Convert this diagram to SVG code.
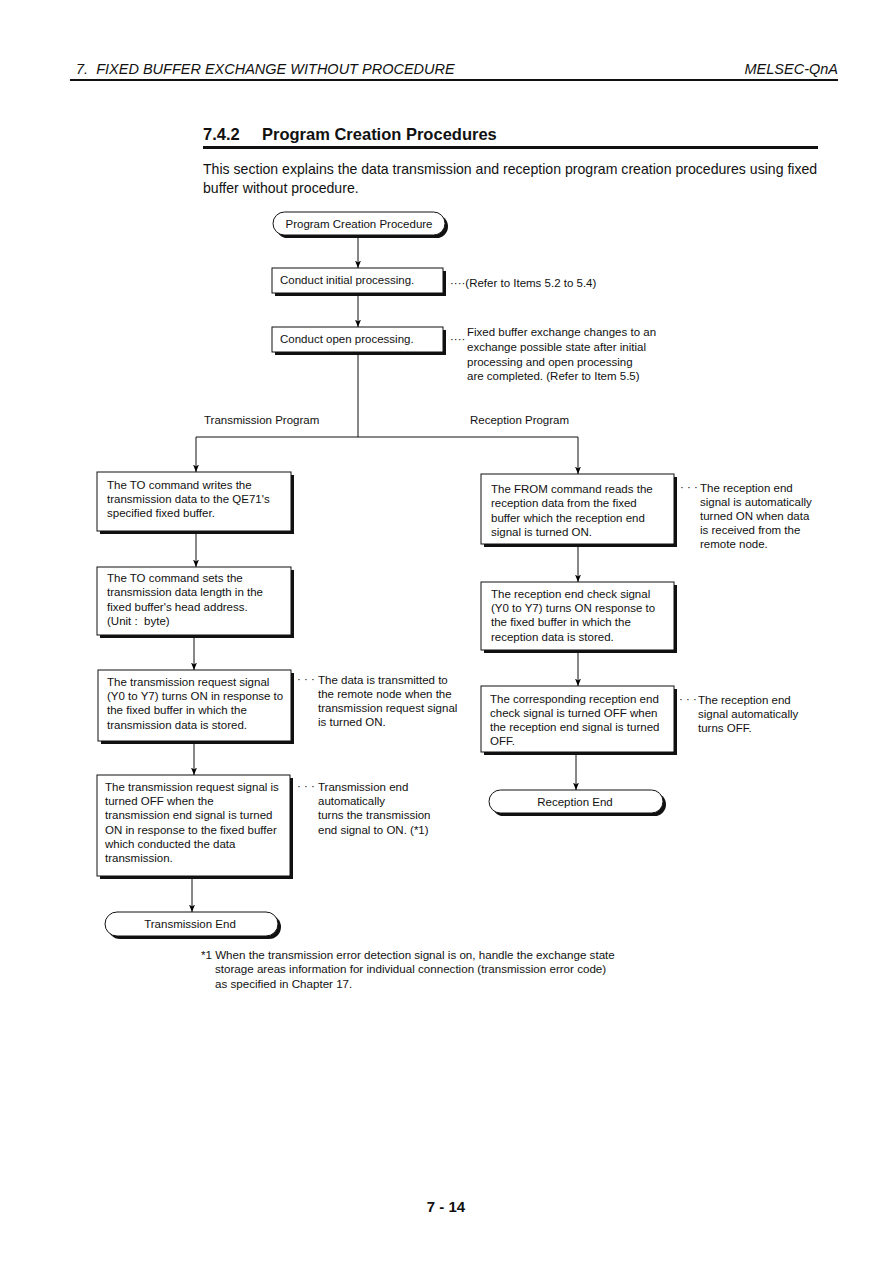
<svg xmlns="http://www.w3.org/2000/svg" width="893" height="1263" viewBox="0 0 893 1263">
<defs>
<marker id="ah" markerWidth="8" markerHeight="8" refX="7.5" refY="4" orient="auto" markerUnits="userSpaceOnUse" viewBox="0 0 8 8">
<path d="M0,1 L7.5,4 L0,7 L2,4 Z" fill="#000"/>
</marker>
<style>
text{font-family:"Liberation Sans",Arial,sans-serif;fill:#111}
.t{font-size:11.5px}
.n{font-size:11.6px}
.sh{fill:#111}
.bx{fill:#fff;stroke:#111;stroke-width:1}
.ln{stroke:#111;stroke-width:1;fill:none}
.ar{stroke:#111;stroke-width:1;fill:none;marker-end:url(#ah)}
</style>
</defs>
<rect width="893" height="1263" fill="#fff"/>
<g id="header">
<text x="76" y="74" font-size="14.5" font-style="italic">7.&#160; FIXED BUFFER EXCHANGE WITHOUT PROCEDURE</text>
<text x="838" y="74" font-size="14.5" font-style="italic" text-anchor="end">MELSEC-QnA</text>
<rect x="70" y="79" width="768" height="2" fill="#111"/>
<text x="203" y="140" font-size="16.5" font-weight="bold">7.4.2</text>
<text x="262" y="140" font-size="16.5" font-weight="bold">Program Creation Procedures</text>
<rect x="203" y="146" width="615" height="3" fill="#111"/>
<text x="203" y="174" font-size="14.1">This section explains the data transmission and reception program creation procedures using fixed</text>
<text x="203" y="193" font-size="14.1">buffer without procedure.</text>
</g>
<g id="connectors">
<line class="ar" x1="358" y1="235" x2="358" y2="268"/>
<line class="ar" x1="358" y1="293" x2="358" y2="327"/>
<polyline class="ln" points="358,352 358,437"/>
<polyline class="ar" points="196,437 578,437 578,474"/>
<line class="ar" x1="196" y1="437" x2="196" y2="472"/>
<line class="ar" x1="196" y1="533" x2="196" y2="567"/>
<line class="ar" x1="194" y1="637" x2="194" y2="670"/>
<line class="ar" x1="194" y1="743" x2="194" y2="775"/>
<line class="ar" x1="192" y1="878" x2="192" y2="912"/>
<line class="ar" x1="578" y1="547" x2="578" y2="582"/>
<line class="ar" x1="578" y1="653" x2="578" y2="686"/>
<line class="ar" x1="576" y1="755" x2="576" y2="790"/>
</g>
<g id="start">
<rect class="sh" x="276" y="215" width="172" height="23" rx="11.5"/>
<rect class="bx" x="273" y="212" width="172" height="23" rx="11.5"/>
<text class="t" x="359" y="228" text-anchor="middle">Program Creation Procedure</text>
</g>
<g id="initial">
<rect class="sh" x="275" y="271" width="171" height="25"/>
<rect class="bx" x="272" y="268" width="171" height="25"/>
<text class="t" x="280" y="284">Conduct initial processing.</text>
<text class="t" x="450" y="287">····(Refer to Items 5.2 to 5.4)</text>
</g>
<g id="open">
<rect class="sh" x="275" y="330" width="171" height="25"/>
<rect class="bx" x="272" y="327" width="171" height="25"/>
<text class="t" x="280" y="343">Conduct open processing.</text>
<text class="t" x="450" y="343">····</text>
<text class="t" x="467" y="336">Fixed buffer exchange changes to an</text>
<text class="t" x="467" y="351">exchange possible state after initial</text>
<text class="t" x="467" y="366">processing and open processing</text>
<text class="t" x="467" y="380">are completed. (Refer to Item 5.5)</text>
</g>
<g id="labels">
<text class="t" x="204" y="424">Transmission Program</text>
<text class="t" x="470" y="424">Reception Program</text>
</g>
<g id="t1">
<rect class="sh" x="100" y="475" width="194" height="59"/>
<rect class="bx" x="97" y="472" width="194" height="59"/>
<text class="t" x="107" y="489">The TO command writes the</text>
<text class="t" x="107" y="503">transmission data to the QE71's</text>
<text class="t" x="107" y="517">specified fixed buffer.</text>
</g>
<g id="t2">
<rect class="sh" x="100" y="570" width="194" height="68"/>
<rect class="bx" x="97" y="567" width="194" height="68"/>
<text class="t" x="107" y="582">The TO command sets the</text>
<text class="t" x="107" y="596">transmission data length in the</text>
<text class="t" x="107" y="611">fixed buffer's head address.</text>
<text class="t" x="107" y="625">(Unit :&#160; byte)</text>
</g>
<g id="t3">
<rect class="sh" x="101" y="673" width="193" height="71"/>
<rect class="bx" x="98" y="670" width="193" height="71"/>
<text class="t" x="107" y="686">The transmission request signal</text>
<text class="t" x="107" y="700">(Y0 to Y7) turns ON in response to</text>
<text class="t" x="107" y="714">the fixed buffer in which the</text>
<text class="t" x="107" y="729">transmission data is stored.</text>
<text class="t" x="297" y="683">· · ·</text>
<text class="t" x="318" y="684">The data is transmitted to</text>
<text class="t" x="318" y="698">the remote node when the</text>
<text class="t" x="318" y="712">transmission request signal</text>
<text class="t" x="318" y="726">is turned ON.</text>
</g>
<g id="t4">
<rect class="sh" x="100" y="778" width="193" height="101"/>
<rect class="bx" x="97" y="775" width="193" height="101"/>
<text class="t" x="105" y="791">The transmission request signal is</text>
<text class="t" x="105" y="805">turned OFF when the</text>
<text class="t" x="105" y="819">transmission end signal is turned</text>
<text class="t" x="105" y="834">ON in response to the fixed buffer</text>
<text class="t" x="105" y="848">which conducted the data</text>
<text class="t" x="105" y="862">transmission.</text>
<text class="t" x="297" y="790">· · ·</text>
<text class="t" x="318" y="791">Transmission end</text>
<text class="t" x="318" y="805">automatically</text>
<text class="t" x="318" y="819">turns the transmission</text>
<text class="t" x="318" y="834">end signal to ON. (*1)</text>
</g>
<g id="tend">
<rect class="sh" x="108" y="915" width="173" height="24" rx="12"/>
<rect class="bx" x="105" y="912" width="173" height="24" rx="12"/>
<text class="t" x="190" y="928" text-anchor="middle">Transmission End</text>
</g>
<g id="r1">
<rect class="sh" x="484" y="477" width="193" height="70"/>
<rect class="bx" x="481" y="474" width="193" height="70"/>
<text class="t" x="491" y="493">The FROM command reads the</text>
<text class="t" x="491" y="507">reception data from the fixed</text>
<text class="t" x="491" y="522">buffer which the reception end</text>
<text class="t" x="491" y="536">signal is turned ON.</text>
<text class="t" x="680" y="491">· · ·</text>
<text class="t" x="700" y="492">The reception end</text>
<text class="t" x="700" y="506">signal is automatically</text>
<text class="t" x="700" y="520">turned ON when data</text>
<text class="t" x="700" y="534">is received from the</text>
<text class="t" x="700" y="548">remote node.</text>
</g>
<g id="r2">
<rect class="sh" x="484" y="585" width="193" height="68"/>
<rect class="bx" x="481" y="582" width="193" height="68"/>
<text class="t" x="491" y="598">The reception end check signal</text>
<text class="t" x="491" y="612">(Y0 to Y7) turns ON response to</text>
<text class="t" x="491" y="626">the fixed buffer in which the</text>
<text class="t" x="491" y="641">reception data is stored.</text>
</g>
<g id="r3">
<rect class="sh" x="484" y="689" width="193" height="66"/>
<rect class="bx" x="481" y="686" width="193" height="66"/>
<text class="t" x="490" y="703">The corresponding reception end</text>
<text class="t" x="490" y="717">check signal is turned OFF when</text>
<text class="t" x="490" y="731">the reception end signal is turned</text>
<text class="t" x="490" y="745">OFF.</text>
<text class="t" x="679" y="703">· · ·</text>
<text class="t" x="698" y="704">The reception end</text>
<text class="t" x="698" y="718">signal automatically</text>
<text class="t" x="698" y="732">turns OFF.</text>
</g>
<g id="rend">
<rect class="sh" x="492" y="793" width="174" height="23" rx="11.5"/>
<rect class="bx" x="489" y="790" width="174" height="23" rx="11.5"/>
<text class="t" x="575" y="806" text-anchor="middle">Reception End</text>
</g>
<g id="footnote">
<text class="n" x="201" y="959">*1 When the transmission error detection signal is on, handle the exchange state</text>
<text class="n" x="215" y="973">storage areas information for individual connection (transmission error code)</text>
<text class="n" x="215" y="988">as specified in Chapter 17.</text>
<text x="446" y="1212" font-size="15" font-weight="bold" text-anchor="middle">7 - 14</text>
</g>
</svg>
